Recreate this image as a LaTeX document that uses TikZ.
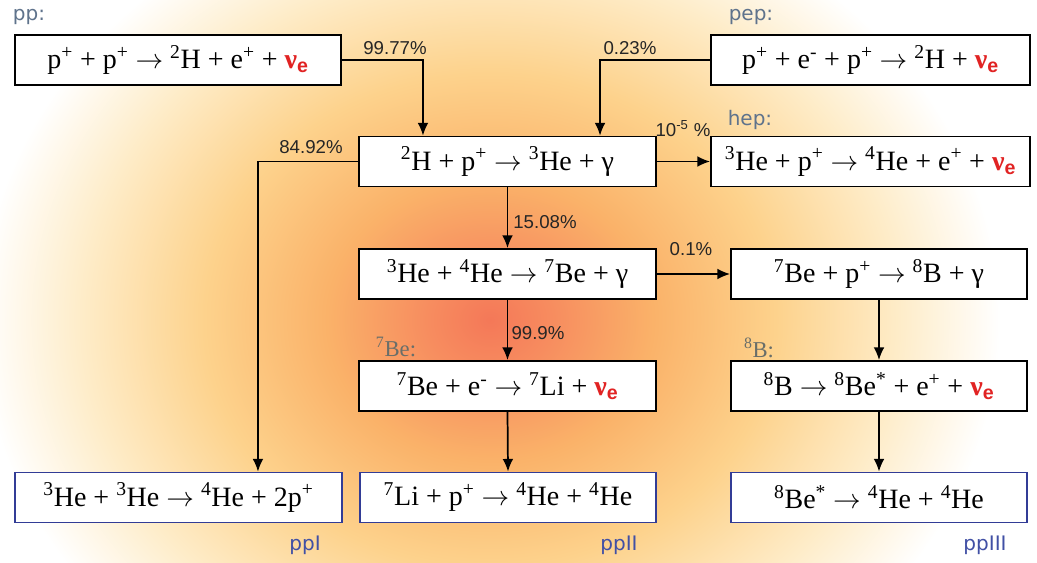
\documentclass[tikz,border=0pt]{standalone}
\usepackage{fontspec}
\setmainfont{Liberation Serif}
\setsansfont{Liberation Sans}
\newfontfamily\labfont{DejaVu Sans}
\usetikzlibrary{arrows.meta}
\definecolor{nured}{RGB}{225,35,35}
\definecolor{labgrey}{RGB}{95,115,140}
\definecolor{nucgrey}{RGB}{105,110,105}
\definecolor{ppblue}{RGB}{65,80,165}
\definecolor{boxblue}{RGB}{50,60,150}
\definecolor{gc0}{RGB}{244,120,88}
\definecolor{gc1}{RGB}{247,140,95}
\definecolor{gc2}{RGB}{250,178,105}
\definecolor{gc3}{RGB}{253,210,140}
\definecolor{gc4}{RGB}{254,236,200}
\pgfdeclareradialshading{glow}{\pgfpoint{0bp}{0bp}}{color(0bp)=(gc0); color(3bp)=(gc1); color(8bp)=(gc2); color(14bp)=(gc3); color(20bp)=(gc4); color(25bp)=(white); color(50bp)=(white)}
\newcommand\su[1]{\textsuperscript{#1}}
\newcommand\ar{ $\rightarrow$ }
\newcommand\nue{{\color{nured}\bfseries ν\textsubscript{\sffamily e}}}
\tikzset{
  box/.style={draw=black, line width=1.3pt, fill=white, minimum height=37.5pt, inner sep=0pt, font=\fontsize{21}{24}\selectfont},
  endbox/.style={box, draw=boxblue},
  arr/.style={draw=black, line width=1.3pt, -{Latex[length=9.5pt,width=8pt]}},
  pct/.style={font=\sffamily\fontsize{14}{16}\selectfont, text=black!85, inner sep=0pt},
  chain/.style={font=\labfont\fontsize{15}{18}\selectfont, text=labgrey, inner sep=0pt},
  nuc/.style={font=\fontsize{17}{20}\selectfont, text=nucgrey, inner sep=0pt},
  branch/.style={font=\labfont\fontsize{15}{18}\selectfont, text=ppblue, inner sep=0pt}
}
\begin{document}
\begin{tikzpicture}[x=0.75pt,y=-0.75pt]
\useasboundingbox (0,0) rectangle (1037,563);
\begin{scope}
\clip (0,0) rectangle (1037,563);
\fill[white] (0,0) rectangle (1037,563);
\shade[shading=glow] (490,320) ellipse [x radius=510, y radius=440];
\end{scope}

\node[box, minimum width=244.5pt] (pp) at (178,60) {p\su{+} + p\su{+}\ar\su{2}H + e\su{+} + \nue};
\node[box, minimum width=222.75pt] (d2h) at (507.5,161.5) {\su{2}H + p\su{+}\ar\su{3}He + γ};
\node[box, minimum width=239.25pt] (pep) at (870.5,60) {p\su{+} + e\su{-} + p\su{+}\ar\su{2}H + \nue};
\node[box, minimum width=239.25pt] (hep) at (870.5,161.5) {\su{3}He + p\su{+}\ar\su{4}He + e\su{+} + \nue};
\node[box, minimum width=222.75pt] (he34) at (507.5,274) {\su{3}He + \su{4}He\ar\su{7}Be + γ};
\node[box, minimum width=222pt] (be7p) at (879,274) {\su{7}Be + p\su{+}\ar\su{8}B + γ};
\node[box, minimum width=222.75pt] (be7e) at (507.5,386) {\su{7}Be + e\su{-}\ar\su{7}Li + \nue};
\node[box, minimum width=222pt] (b8) at (879,386) {\su{8}B\ar\su{8}Be\su{*} + e\su{+} + \nue};
\node[endbox, minimum width=245.25pt] (ppI) at (178.5,497.5) {\su{3}He + \su{3}He\ar\su{4}He + 2p\su{+}};
\node[endbox, minimum width=222pt] (ppII) at (508,497.5) {\su{7}Li + p\su{+}\ar\su{4}He + \su{4}He};
\node[endbox, minimum width=222pt] (ppIII) at (879,497.5) {\su{8}Be\su{*}\ar\su{4}He + \su{4}He};

\draw[arr] (pp.east) -| ([xshift=-63.4pt]d2h.north);
\draw[arr] (pep.west) -| ([xshift=69.4pt]d2h.north);
\draw[arr] (d2h.east) -- (hep.west);
\draw[arr] (d2h.west) -| ([xshift=59.6pt]ppI.north);
\draw[arr] (d2h.south) -- (he34.north);
\draw[arr] (he34.east) -- (be7p.west);
\draw[arr] (he34.south) -- (be7e.north);
\draw[arr] (be7e.south) -- (ppII.north);
\draw[arr] (be7p.south) -- (b8.north);
\draw[arr] (b8.south) -- (ppIII.north);

\node[pct] (l1) at (395,48) {99.77\%};
\node[pct] (l2) at (630,48) {0.23\%};
\node[pct] (l3) at (311,147) {84.92\%};
\node[pct] (l4) at (683,129) {10\su{-5} \%};
\node[pct] (l5) at (545,222) {15.08\%};
\node[pct] (l6) at (691,249) {0.1\%};
\node[pct] (l7) at (538,333) {99.9\%};

\node[chain] (cpp) at (29,17) {pp:};
\node[chain] (cpep) at (751,17) {pep:};
\node[chain] (chep) at (750,120) {hep:};
\node[nuc] (cbe) at (396,347) {\su{7}Be:};
\node[nuc] (cb) at (759,348) {\su{8}B:};
\node[branch] (bI) at (305,545) {ppI};
\node[branch] (bII) at (619,545) {ppII};
\node[branch] (bIII) at (985,545) {ppIII};
\end{tikzpicture}
\end{document}
